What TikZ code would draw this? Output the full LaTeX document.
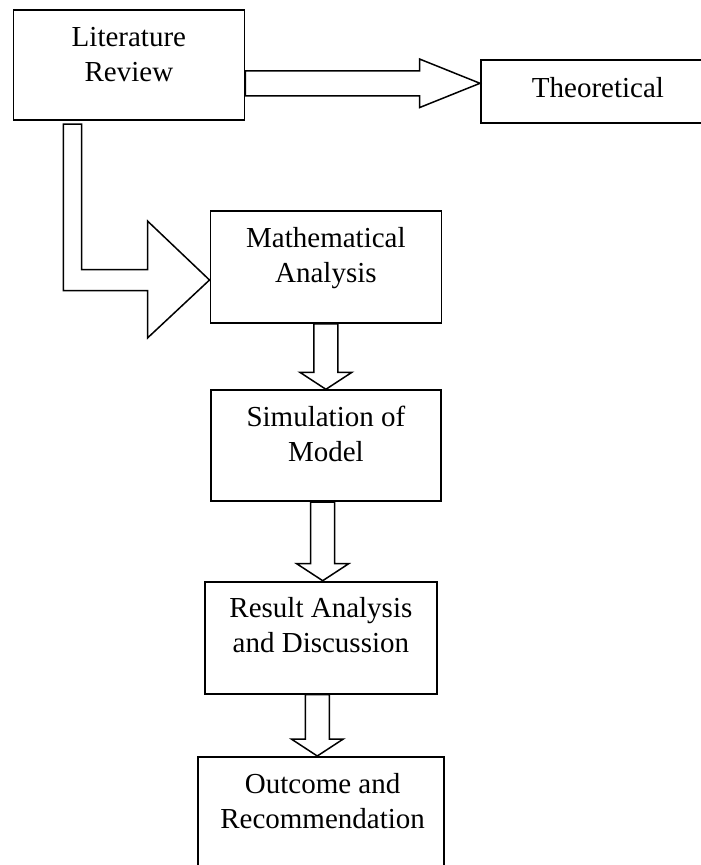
\documentclass[tikz,border=0pt]{standalone}
\usepackage{fontspec}
\setmainfont{Liberation Serif}
\usetikzlibrary{calc}

% hollow block arrow pointing straight down, from #1 (top of shaft) to #2 (tip)
\newcommand\fatdown[2]{%
  \draw[blockarrow] let \p1=(#1), \p2=(#2) in
    (\x2-12pt,\y1) -- (\x2-12pt,\y2+17pt) -- (\x2-26pt,\y2+17pt) -- (\x2,\y2)
    -- (\x2+26pt,\y2+17pt) -- (\x2+12pt,\y2+17pt) -- (\x2+12pt,\y1) -- cycle;}

\begin{document}
\begin{tikzpicture}[x=1pt,y=-1pt,
  box/.style={draw,line width=1.8pt,rectangle,anchor=north west,inner sep=0pt},
  txt/.style={anchor=north,align=center,inner sep=0pt,font=\fontsize{29}{35}\selectfont},
  blockarrow/.style={draw,line width=1.5pt,line join=miter}]

\useasboundingbox (0,0) rectangle (701,865);
\clip (0,0) rectangle (701,865);

% boxes
\node[box,minimum width=231pt,minimum height=110pt] (lit)  at (12.5,9.3)   {};
\node[box,minimum width=240pt,minimum height=63pt]  (theo) at (480,59.3)   {};
\node[box,minimum width=231pt,minimum height=112pt] (math) at (209.5,210)  {};
\node[box,minimum width=230pt,minimum height=111pt] (sim)  at (210,389.3)  {};
\node[box,minimum width=232pt,minimum height=112pt] (res)  at (204,580.7)  {};
\node[box,minimum width=246pt,minimum height=140pt] (out)  at (196.7,756)  {};

% box texts, hanging from the top edge
\node[txt] (litT)  at ($(lit.north)+(0,12.5)$)  {\strut Literature\\Review};
\node[txt] (theoT) at ($(theo.north west)+(118,13)$) {\strut Theoretical};
\node[txt] (mathT) at ($(math.north)+(0,12.5)$) {\strut Mathematical\\Analysis};
\node[txt] (simT)  at ($(sim.north)+(0,12.5)$)  {\strut Simulation of\\Model};
\node[txt] (resT)  at ($(res.north)+(0,12.5)$)  {\strut Result Analysis\\and Discussion};
\node[txt] (outT)  at ($(out.north)+(2,12.5)$)  {\strut Outcome and\\Recommendation};

% Literature Review -> Theoretical
\coordinate (hs) at ($(lit.north east)+(0,74)$);
\coordinate (ht) at ($(theo.north west)+(0,24)$);
\draw[blockarrow] let \p1=(hs), \p2=(ht) in
  (\x1,\y1+12.5pt) -- (\x2-60.5pt,\y1+12.5pt) -- (\x2-60.5pt,\y2+24.3pt) -- (\x2,\y2)
  -- (\x2-60.5pt,\y2-24.3pt) -- (\x2-60.5pt,\y1-12.5pt) -- (\x1,\y1-12.5pt) -- cycle;

% Literature Review -> Mathematical Analysis (bent)
\coordinate (bs) at ($(lit.south west)+(60,0)$);
\coordinate (bt) at ($(math.north west)+(0,70)$);
\draw[blockarrow] let \p1=(bs), \p2=(bt) in
  (\x1-9.2pt,\y1-3pt) -- (\x1+9.2pt,\y1-3pt) -- (\x1+9.2pt,\y2+10.5pt)
  -- (\x2-62pt,\y2+10.5pt) -- (\x2-62pt,\y2+59pt) -- (\x2,\y2)
  -- (\x2-62pt,\y2-58pt) -- (\x2-62pt,\y2-10.5pt) -- (\x1-9.2pt,\y2-10.5pt) -- cycle;

% downward chain
\coordinate (d1s) at (math.south);
\coordinate (d1t) at (sim.north);
\fatdown{d1s}{d1t}
\coordinate (d2t) at ($(res.north west)+(118.7,0)$);
\coordinate (d2s) at (sim.south -| d2t);
\fatdown{d2s}{d2t}
\coordinate (d3t) at ($(out.north west)+(120.6,0)$);
\coordinate (d3s) at (res.south -| d3t);
\fatdown{d3s}{d3t}

\end{tikzpicture}
\end{document}
